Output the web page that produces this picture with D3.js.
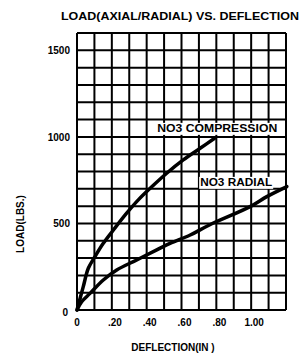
<!DOCTYPE html>
<html lang="en">
<head>
  <meta charset="UTF-8">
  <title>Load vs Deflection</title>
  <script src="https://d3js.org/d3.v7.min.js"></script>
  <style>
    body { margin: 0; background: #fff; }
    text { font-family: "Liberation Sans Narrow", "Liberation Sans", Arial, sans-serif; font-weight: bold; fill: #000; }
    .grid line { stroke: #000; stroke-width: 2; }
    .curve { fill: none; stroke: #000; stroke-width: 3.5; stroke-linecap: round; }
  </style>
</head>
<body>
<div id="chart"></div>
<script>
  // compression curve (deflection in, load lbs)
  const compDefl = [0, 0.036, 0.065, 0.103, 0.151, 0.209, 0.285, 0.352, 0.42, 0.515, 0.61, 0.707, 0.79];
  const compLoad = [0, 135, 241, 308, 385, 462, 559, 636, 703, 790, 867, 934, 992];
  // radial curve
  const radDefl = [0, 0.027, 0.075, 0.151, 0.228, 0.343, 0.458, 0.534, 0.65, 0.76, 0.994, 1.09, 1.205];
  const radLoad = [0, 48, 96, 173, 231, 289, 347, 385, 433, 491, 597, 655, 713];

  const xTicks = [0, 0.2, 0.4, 0.6, 0.8, 1.0];
  const xTickLabels = ["0", ".20", ".40", ".60", ".80", "1.00"];
  const yTicks = [0, 500, 1000, 1500];

  const svgWidth = 307, svgHeight = 356;
  const margin = { top: 33, right: 21, bottom: 46, left: 77 };
  const width = svgWidth - margin.left - margin.right;
  const height = svgHeight - margin.top - margin.bottom;

  const x = d3.scaleLinear().domain([0, 1.2]).range([0, width]);
  const y = d3.scaleLinear().domain([0, 1600]).range([height, 0]);

  const svg = d3.select("#chart").append("svg")
    .attr("width", svgWidth)
    .attr("height", svgHeight)
    .append("g")
    .attr("transform", `translate(${margin.left},${margin.top})`);

  // grid
  const grid = svg.append("g").attr("class", "grid");
  grid.selectAll(".v").data(d3.range(0, 13))
    .join("line")
    .attr("x1", d => x(d / 10)).attr("x2", d => x(d / 10))
    .attr("y1", 0).attr("y2", height);
  grid.selectAll(".h").data(d3.range(0, 17))
    .join("line")
    .attr("y1", d => y(d * 100)).attr("y2", d => y(d * 100))
    .attr("x1", 0).attr("x2", width);

  const line = d3.line()
    .x(d => x(d[0]))
    .y(d => y(d[1]))
    .curve(d3.curveCatmullRom);

  svg.append("path")
    .attr("class", "curve")
    .attr("d", line(d3.zip(compDefl, compLoad)));
  svg.append("path")
    .attr("class", "curve")
    .attr("d", line(d3.zip(radDefl, radLoad)));

  // curve labels with white backing
  function label(txt, cx, cy, w) {
    svg.append("rect")
      .attr("x", cx - w / 2 - 1).attr("y", cy - 9)
      .attr("width", w + 2).attr("height", 12)
      .attr("fill", "#fff");
    svg.append("text")
      .attr("x", cx).attr("y", cy)
      .attr("text-anchor", "middle")
      .attr("font-size", 11)
      .attr("textLength", w)
      .attr("lengthAdjust", "spacingAndGlyphs")
      .text(txt);
  }
  label("NO3 COMPRESSION", x(0.805), y(1029), 120);
  label("NO3 RADIAL", x(0.914), y(717), 72);

  // tick labels
  svg.selectAll(".xt").data(xTicks)
    .join("text")
    .attr("x", d => x(d) + (d === 0 ? 0 : 3))
    .attr("y", height + 16)
    .attr("text-anchor", "middle")
    .attr("font-size", 10)
    .text((d, i) => xTickLabels[i]);

  svg.selectAll(".yt").data(yTicks)
    .join("text")
    .attr("x", d => d === 0 ? -9 : -7)
    .attr("y", d => y(d) + (d === 0 ? 6 : 4))
    .attr("text-anchor", "end")
    .attr("font-size", 10)
    .text(d => d);

  // titles
  svg.append("text")
    .attr("x", 180 - margin.left).attr("y", 20 - margin.top)
    .attr("text-anchor", "middle")
    .attr("font-size", 11)
    .attr("textLength", 238)
    .attr("lengthAdjust", "spacingAndGlyphs")
    .text("LOAD(AXIAL/RADIAL) VS. DEFLECTION");

  svg.append("text")
    .attr("x", 173 - margin.left).attr("y", height + 41)
    .attr("text-anchor", "middle")
    .attr("font-size", 10)
    .text("DEFLECTION(IN )");

  svg.append("text")
    .attr("transform", `translate(${24 - margin.left},${224 - margin.top}) rotate(-90)`)
    .attr("text-anchor", "middle")
    .attr("font-size", 10)
    .text("LOAD(LBS.)");
</script>
</body>
</html>
